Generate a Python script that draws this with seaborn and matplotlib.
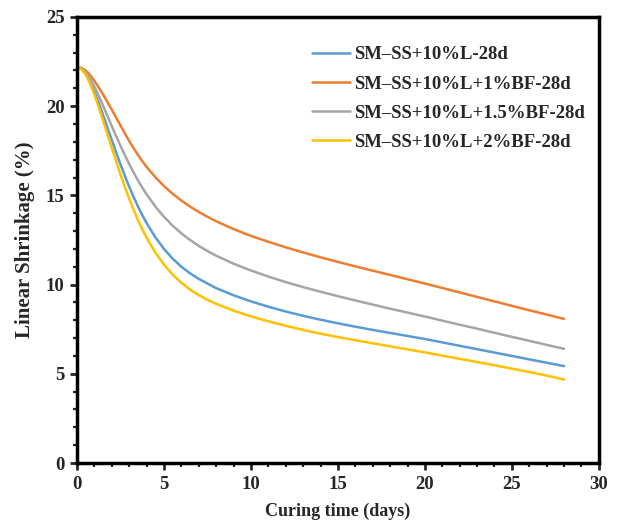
import numpy as np
import pandas as pd
import matplotlib
matplotlib.use("Agg")
import matplotlib.pyplot as plt
from matplotlib.ticker import MultipleLocator
import seaborn as sns

days = [0, 0.25, 0.5, 0.75, 1, 1.25, 1.5, 1.75, 2, 2.25, 2.5, 2.75, 3, 3.25, 3.5, 3.75,
        4, 4.5, 5, 5.5, 6, 6.5, 7, 7.5, 8, 9, 10, 11, 12, 13, 14, 15, 16, 17, 18,
        19, 20, 21, 22, 23, 24, 25, 26, 27, 28]

s_l = [22.20, 22.10, 21.82, 21.38, 20.82, 20.18, 19.50, 18.80, 18.10, 17.41, 16.74, 16.10,
       15.49, 14.92, 14.39, 13.90, 13.45, 12.66, 12.00, 11.45, 11.00, 10.63, 10.32, 10.06,
       9.80, 9.40, 9.06, 8.76, 8.49, 8.25, 8.03, 7.83, 7.64, 7.46, 7.29, 7.12, 6.95,
       6.76, 6.57, 6.38, 6.19, 6.00, 5.81, 5.62, 5.43]
s_1bf = [22.20, 22.15, 22.00, 21.75, 21.42, 21.05, 20.65, 20.23, 19.80, 19.36, 18.92, 18.48,
         18.05, 17.65, 17.27, 16.92, 16.60, 16.02, 15.52, 15.09, 14.71, 14.37, 14.07, 13.80,
         13.55, 13.11, 12.73, 12.40, 12.09, 11.80, 11.53, 11.27, 11.02, 10.78, 10.54, 10.30,
         10.06, 9.81, 9.56, 9.31, 9.06, 8.81, 8.56, 8.32, 8.08]
s_15bf = [22.20, 22.12, 21.90, 21.55, 21.10, 20.58, 20.02, 19.45, 18.88, 18.32, 17.78, 17.26,
          16.76, 16.29, 15.85, 15.44, 15.06, 14.38, 13.80, 13.30, 12.87, 12.50, 12.17, 11.88,
          11.62, 11.17, 10.79, 10.45, 10.14, 9.86, 9.60, 9.35, 9.11, 8.88, 8.65, 8.43,
          8.21, 7.98, 7.75, 7.53, 7.30, 7.07, 6.85, 6.62, 6.40]
s_2bf = [22.20, 22.08, 21.76, 21.27, 20.65, 19.95, 19.20, 18.43, 17.66, 16.91, 16.18, 15.48,
         14.82, 14.20, 13.63, 13.11, 12.63, 11.80, 11.12, 10.56, 10.10, 9.72, 9.41, 9.15,
         8.92, 8.54, 8.22, 7.94, 7.69, 7.46, 7.25, 7.06, 6.88, 6.71, 6.54, 6.37, 6.20,
         6.02, 5.84, 5.66, 5.48, 5.29, 5.10, 4.90, 4.68]

labels = ["SM\u2013SS+10%L-28d", "SM\u2013SS+10%L+1%BF-28d",
          "SM\u2013SS+10%L+1.5%BF-28d", "SM\u2013SS+10%L+2%BF-28d"]
colors = ["#5B9BD5", "#ED7D31", "#A5A5A5", "#FFC000"]

frames = []
for lab, vals in zip(labels, [s_l, s_1bf, s_15bf, s_2bf]):
    frames.append(pd.DataFrame({"day": days, "val": vals, "series": lab}))
df = pd.concat(frames, ignore_index=True)

sns.set_style("white")
plt.rcParams['font.family'] = ['Liberation Serif', 'DejaVu Serif']
plt.rcParams['font.weight'] = 'bold'

fig = plt.figure(figsize=(6.18, 5.30), dpi=100)
ax = fig.add_axes([0.1246, 0.1264, 0.969 - 0.1246, 0.968 - 0.1264])

sns.lineplot(data=df, x="day", y="val", hue="series", hue_order=labels,
             palette=colors, linewidth=1.8, ax=ax, sort=True)

ax.set_xlim(0, 30)
ax.set_ylim(0, 25)
ax.xaxis.set_major_locator(MultipleLocator(5))
ax.xaxis.set_minor_locator(MultipleLocator(1))
ax.yaxis.set_major_locator(MultipleLocator(5))
ax.yaxis.set_minor_locator(MultipleLocator(1))
ax.tick_params(which='major', direction='out', length=5, width=2, labelsize=13.5,
               left=True, bottom=True, pad=4)
ax.tick_params(which='minor', direction='out', length=3, width=1.6,
               left=True, bottom=True)
for lbl in ax.get_xticklabels() + ax.get_yticklabels():
    lbl.set_fontweight('bold')
for sp in ax.spines.values():
    sp.set_linewidth(2.5)
    sp.set_color('black')

ax.set_xlabel("Curing time (days)", fontsize=13, fontweight='bold', labelpad=7)
ax.set_ylabel("Linear Shrinkage (%)", fontsize=15, fontweight='bold', labelpad=8)

leg = ax.legend(loc='upper left', bbox_to_anchor=(0.418, 0.972), frameon=False,
                handlelength=2.0, handletextpad=0.25, labelspacing=0.64,
                prop={'weight': 'bold', 'size': 13.5})
for line in leg.get_lines():
    line.set_linewidth(1.8)

fig.savefig("out.png", dpi=100)
